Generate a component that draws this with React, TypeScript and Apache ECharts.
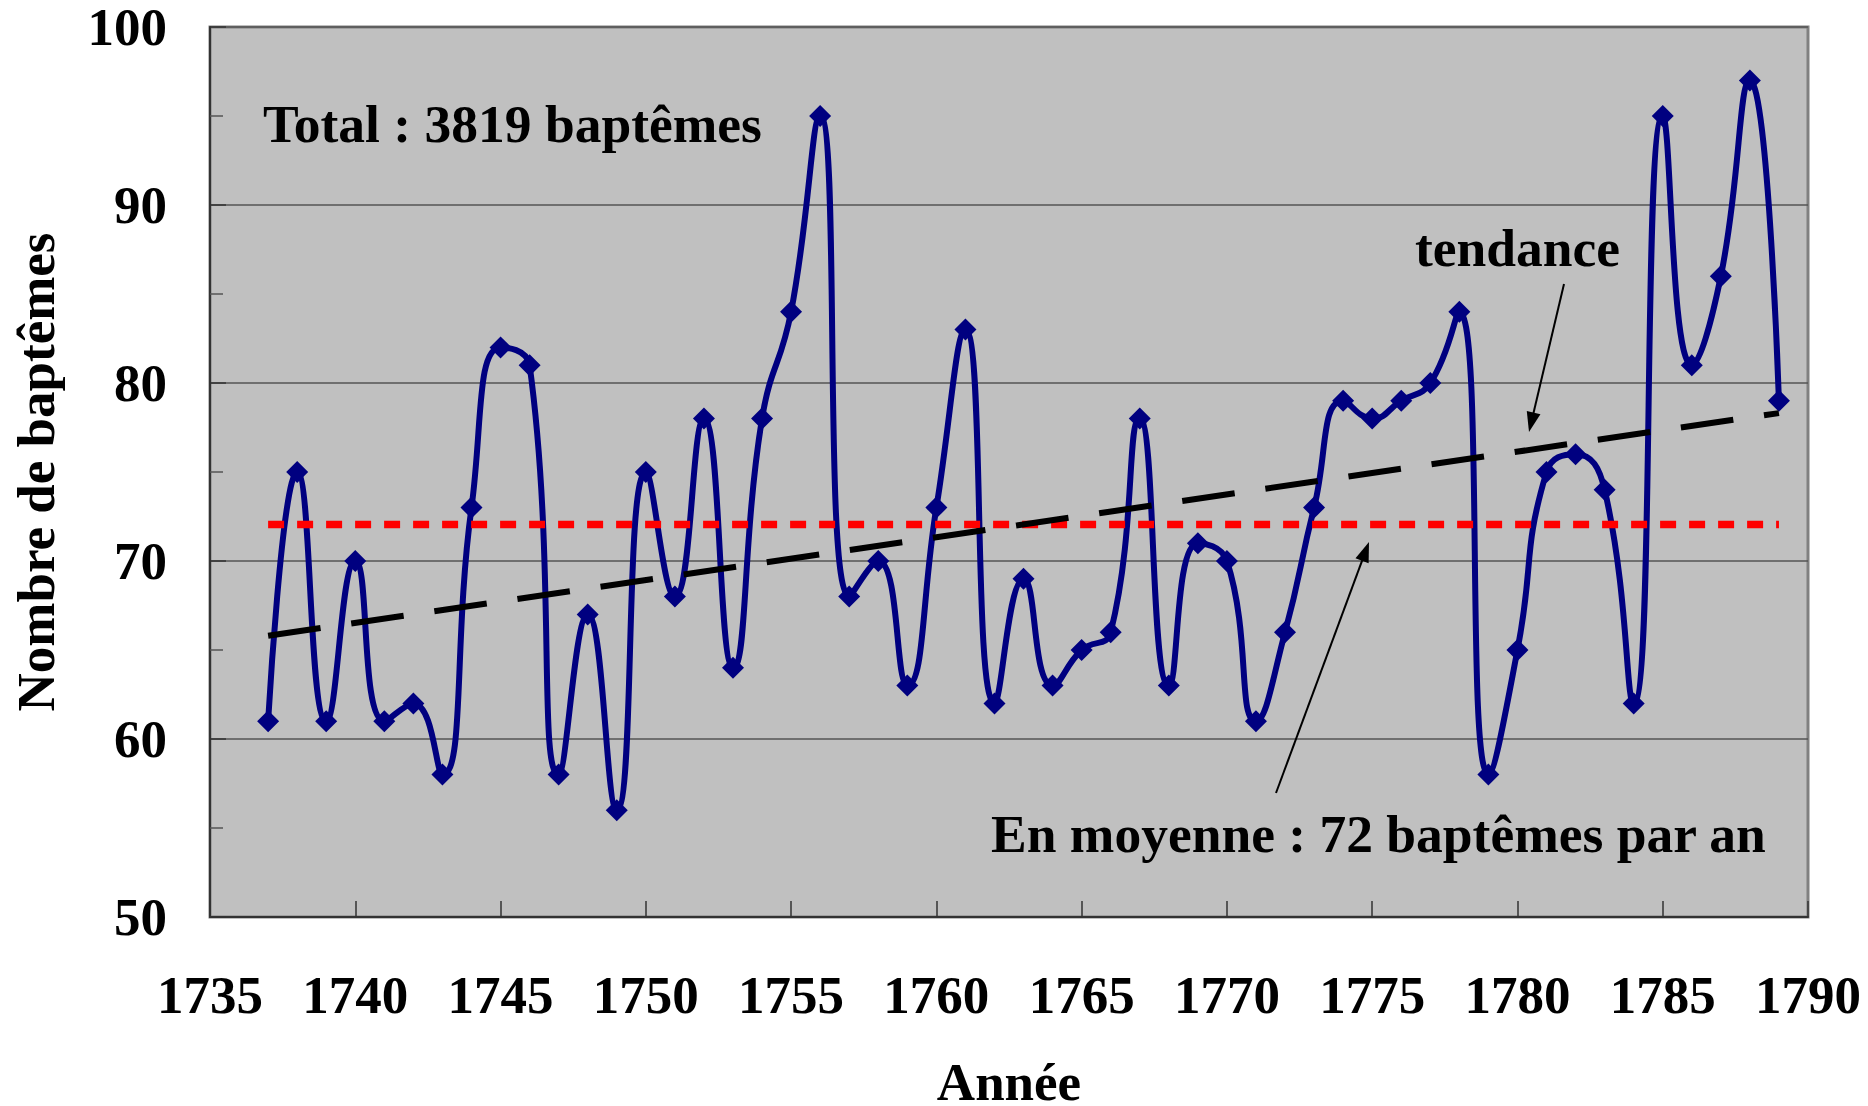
import React, { useEffect, useRef } from "react";
import * as echarts from "echarts";

const years = [
  1737, 1738, 1739, 1740, 1741, 1742, 1743, 1744, 1745, 1746,
  1747, 1748, 1749, 1750, 1751, 1752, 1753, 1754, 1755, 1756,
  1757, 1758, 1759, 1760, 1761, 1762, 1763, 1764, 1765, 1766,
  1767, 1768, 1769, 1770, 1771, 1772, 1773, 1774, 1775, 1776,
  1777, 1778, 1779, 1780, 1781, 1782, 1783, 1784, 1785, 1786,
  1787, 1788, 1789,
];
const baptemes = [
  61, 75, 61, 70, 61, 62, 58, 73, 82, 81,
  58, 67, 56, 75, 68, 78, 64, 78, 84, 95,
  68, 70, 63, 73, 83, 62, 69, 63, 65, 66,
  78, 63, 71, 70, 61, 66, 73, 79, 78, 79,
  80, 84, 58, 65, 75, 76, 74, 62, 95, 81,
  86, 97, 79,
];
const xTicks = { min: 1735, max: 1790, step: 5 };
const yTicks = { min: 50, max: 100, step: 10 };

const FONT = "'Liberation Serif', 'Times New Roman', serif";

function arrow(x1: number, y1: number, x2: number, y2: number) {
  const dx = x2 - x1;
  const dy = y2 - y1;
  const L = Math.hypot(dx, dy);
  const ux = dx / L;
  const uy = dy / L;
  const len = 20;
  const w = 7;
  const bx = x2 - ux * len;
  const by = y2 - uy * len;
  const px = -uy;
  const py = ux;
  return [
    {
      type: "line",
      shape: { x1, y1, x2: bx + ux * 2, y2: by + uy * 2 },
      style: { stroke: "#000", lineWidth: 2 },
      z: 100,
    },
    {
      type: "polygon",
      shape: {
        points: [
          [x2, y2],
          [bx + px * w, by + py * w],
          [bx - px * w, by - py * w],
        ],
      },
      style: { fill: "#000" },
      z: 100,
    },
  ];
}

export default function App() {
  const ref = useRef<HTMLDivElement>(null);
  useEffect(() => {
    if (!ref.current) return;
    const chart = echarts.init(ref.current, undefined, { renderer: "svg" });

    const n = years.length;
    const total = baptemes.reduce((a, b) => a + b, 0);
    const mean = total / n;
    const xm = years.reduce((a, b) => a + b, 0) / n;
    let sxy = 0;
    let sxx = 0;
    for (let i = 0; i < n; i++) {
      sxy += (years[i] - xm) * (baptemes[i] - mean);
      sxx += (years[i] - xm) * (years[i] - xm);
    }
    const slope = sxy / sxx;
    const trendAt = (x: number) => mean + slope * (x - xm);
    const x0 = years[0];
    const x1 = years[n - 1];

    const textStyle = {
      fontFamily: FONT,
      fontWeight: "bold",
      fontSize: 53.5,
      fill: "#000",
    };

    chart.setOption({
      animation: false,
      grid: {
        left: 210,
        top: 27,
        width: 1598,
        height: 890,
        show: true,
        backgroundColor: "#C0C0C0",
        borderColor: "#808080",
        borderWidth: 3,
        containLabel: false,
        outerBoundsMode: "none",
      },
      xAxis: {
        type: "value",
        min: xTicks.min,
        max: xTicks.max,
        interval: xTicks.step,
        name: "Année",
        nameLocation: "middle",
        nameGap: 145,
        nameTextStyle: {
          fontFamily: FONT,
          fontWeight: "bold",
          fontSize: 53,
          lineHeight: 40,
          color: "#000",
        },
        axisLine: { show: true, lineStyle: { color: "#333", width: 2 } },
        axisTick: { show: true, inside: true, length: 16, lineStyle: { color: "#333", width: 1.5 } },
        splitLine: { show: false },
        axisLabel: {
          fontFamily: FONT,
          fontWeight: "bold",
          fontSize: 53,
          lineHeight: 40,
          color: "#000",
          margin: 58,
          formatter: (v: number) => String(v),
        },
      },
      yAxis: {
        type: "value",
        min: yTicks.min,
        max: yTicks.max,
        interval: yTicks.step,
        name: "Nombre de baptêmes",
        nameLocation: "middle",
        nameGap: 154,
        nameTextStyle: {
          fontFamily: FONT,
          fontWeight: "bold",
          fontSize: 53,
          lineHeight: 40,
          color: "#000",
        },
        axisLine: { show: true, lineStyle: { color: "#333", width: 2 } },
        axisTick: { show: true, inside: true, length: 16, lineStyle: { color: "#333", width: 1.5 } },
        minorTick: { show: true, splitNumber: 2, length: 13, lineStyle: { color: "#555", width: 1.5 } },
        splitLine: { show: true, lineStyle: { color: "#555", width: 1.5 } },
        axisLabel: {
          fontFamily: FONT,
          fontWeight: "bold",
          fontSize: 53,
          lineHeight: 40,
          color: "#000",
          margin: 43,
          formatter: (v: number) => String(v),
        },
      },
      series: [
        {
          type: "line",
          name: "Baptêmes",
          data: years.map((y, i) => [y, baptemes[i]]),
          smooth: 0.5,
          symbol: "diamond",
          symbolSize: 22,
          itemStyle: { color: "#000080" },
          lineStyle: { color: "#000080", width: 6 },
          z: 2,
        },
        {
          type: "line",
          name: "moyenne",
          data: [
            [x0, mean],
            [x1, mean],
          ],
          symbol: "none",
          lineStyle: { color: "#FF0000", width: 7.5, type: [16, 13] },
          z: 3,
        },
        {
          type: "line",
          name: "tendance",
          data: [
            [x0, trendAt(x0)],
            [x1, trendAt(x1)],
          ],
          symbol: "none",
          lineStyle: { color: "#000", width: 6, type: [53, 31] },
          z: 4,
        },
      ],
      graphic: [
        {
          type: "text",
          x: 263,
          y: 124,
          style: { ...textStyle, text: `Total : ${total} baptêmes`, align: "left", verticalAlign: "middle" },
          z: 100,
        },
        {
          type: "text",
          x: 1415,
          y: 248,
          style: { ...textStyle, text: "tendance", align: "left", verticalAlign: "middle" },
          z: 100,
        },
        {
          type: "text",
          x: 991,
          y: 834,
          style: {
            ...textStyle,
            text: `En moyenne : ${Math.round(mean)} baptêmes par an`,
            align: "left",
            verticalAlign: "middle",
          },
          z: 100,
        },
        ...arrow(1564, 284, 1529, 432),
        ...arrow(1276, 793, 1369, 542),
      ],
    });
    return () => chart.dispose();
  }, []);
  return (
    <div
      ref={ref}
      style={{ position: "fixed", left: 0, top: 0, width: 1868, height: 1106, background: "#fff" }}
    />
  );
}
